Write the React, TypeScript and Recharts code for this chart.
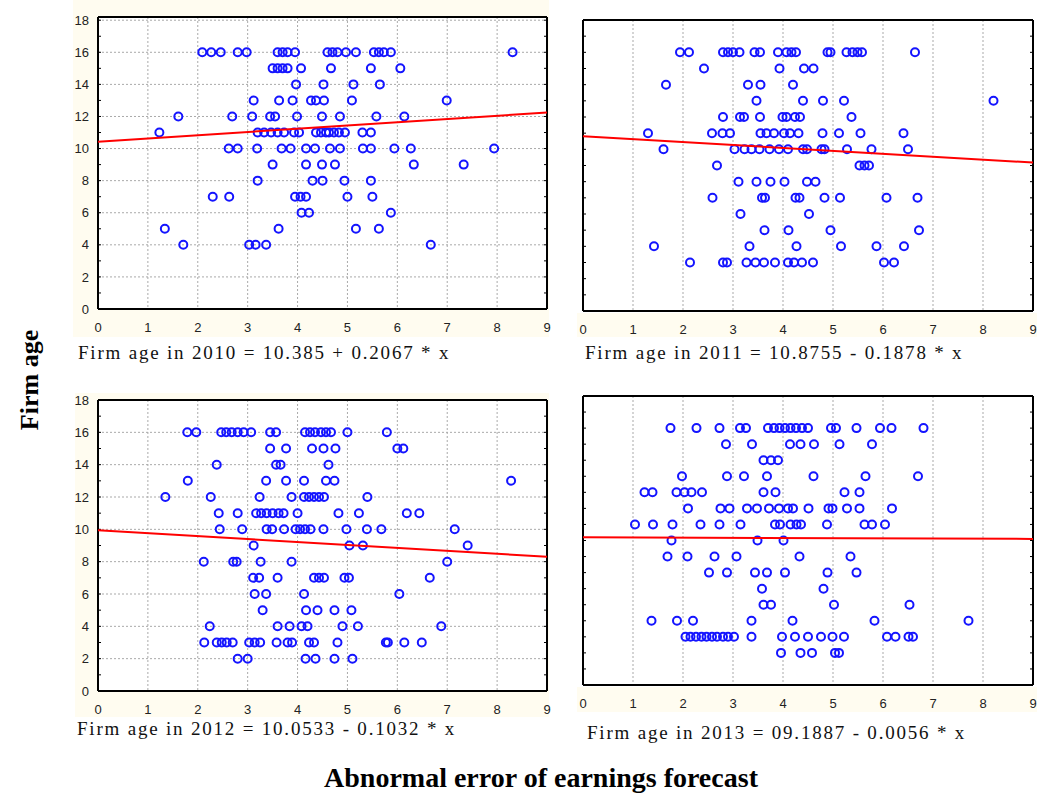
import { ScatterChart, Scatter, XAxis, YAxis, CartesianGrid } from 'recharts';

type Row = [number, number[]];

// firm age -> abnormal forecast errors (one row per age)
const rows2010: Row[] = [
  [16, [2.09, 2.27, 2.46, 2.8, 2.98, 3.6, 3.7, 3.8, 3.95, 4.6, 4.7, 4.8, 4.97, 5.17, 5.53, 5.63, 5.73, 5.87, 8.31]],
  [15, [3.5, 3.6, 3.7, 3.8, 4.07, 4.67, 5.47, 6.06]],
  [14, [3.97, 4.52, 5.12, 5.65]],
  [13, [3.12, 3.63, 3.9, 4.27, 4.37, 4.53, 5.09, 6.99]],
  [12, [1.61, 2.69, 3.09, 3.45, 3.55, 3.99, 4.49, 4.85, 5.58, 6.14]],
  [11, [1.23, 3.2, 3.33, 3.47, 3.6, 3.73, 3.93, 4.03, 4.37, 4.47, 4.57, 4.63, 4.73, 4.83, 4.95, 5.3, 5.47]],
  [10, [2.62, 2.8, 3.19, 3.68, 3.86, 4.17, 4.35, 4.65, 4.85, 5.31, 5.47, 5.94, 6.27, 7.94]],
  [9, [3.5, 4.17, 4.49, 4.75, 6.33, 7.33]],
  [8, [3.2, 4.3, 4.5, 4.94, 5.47]],
  [7, [2.3, 2.63, 3.95, 4.06, 4.17, 5.0, 5.5]],
  [6, [4.08, 4.23, 5.87]],
  [5, [1.34, 3.62, 5.17, 5.63]],
  [4, [1.71, 3.03, 3.16, 3.37, 6.67]],
];

const rows2011: Row[] = [
  [16, [1.94, 2.12, 2.8, 2.9, 3.0, 3.13, 3.43, 3.54, 3.9, 4.07, 4.17, 4.26, 4.89, 4.95, 5.27, 5.39, 5.49, 5.58, 6.64]],
  [15, [2.42, 3.93, 4.42, 4.61]],
  [14, [1.66, 3.3, 3.55, 4.2]],
  [13, [3.47, 4.4, 4.8, 5.22, 8.21]],
  [12, [2.8, 3.14, 3.22, 3.54, 3.99, 4.07, 4.24, 4.34, 5.37]],
  [11, [1.3, 2.58, 2.79, 2.94, 3.55, 3.67, 3.82, 4.02, 4.14, 4.31, 4.79, 5.12, 5.55, 6.41]],
  [10, [1.61, 3.03, 3.23, 3.37, 3.53, 3.73, 3.92, 4.1, 4.4, 4.48, 4.77, 4.83, 5.28, 5.77, 6.5]],
  [9, [2.68, 5.53, 5.63, 5.72]],
  [8, [3.11, 3.47, 3.75, 4.03, 4.48, 4.65]],
  [7, [2.59, 3.58, 3.64, 4.25, 4.33, 4.83, 5.14, 6.07, 6.69]],
  [6, [3.15, 4.52]],
  [5, [3.63, 4.11, 4.95, 6.72]],
  [4, [1.42, 3.33, 4.27, 5.16, 5.87, 6.42]],
  [3, [2.14, 2.8, 2.88, 3.27, 3.45, 3.62, 3.84, 4.1, 4.22, 4.38, 4.6, 6.02, 6.22]],
];

const rows2012: Row[] = [
  [16, [1.79, 1.97, 2.47, 2.57, 2.68, 2.8, 2.92, 3.07, 3.45, 3.57, 4.15, 4.25, 4.35, 4.47, 4.57, 4.67, 5.0, 5.79]],
  [15, [3.45, 3.77, 4.29, 4.52, 4.76, 6.0, 6.12]],
  [14, [2.38, 3.57, 3.66, 4.62]],
  [13, [1.8, 3.37, 3.77, 4.13, 4.57, 4.74, 8.28]],
  [12, [1.35, 2.26, 3.24, 3.88, 4.13, 4.23, 4.33, 4.43, 4.53, 5.4]],
  [11, [2.42, 2.8, 3.17, 3.27, 3.38, 3.5, 3.62, 3.72, 4.0, 4.82, 5.23, 6.19, 6.44]],
  [10, [2.44, 2.89, 3.38, 3.49, 3.73, 3.96, 4.05, 4.15, 4.26, 4.52, 4.98, 5.39, 5.68, 7.15]],
  [9, [3.12, 5.04, 5.31, 7.41]],
  [8, [2.12, 2.71, 2.78, 3.26, 3.88, 7.0]],
  [7, [3.11, 3.23, 3.6, 4.33, 4.43, 4.53, 4.94, 5.03, 6.65]],
  [6, [3.14, 3.37, 4.13, 6.04]],
  [5, [3.3, 4.17, 4.4, 4.74, 5.08]],
  [4, [2.24, 3.6, 3.84, 4.08, 4.2, 4.9, 5.21, 6.88]],
  [3, [2.13, 2.38, 2.48, 2.58, 2.7, 3.03, 3.14, 3.25, 3.58, 3.8, 3.89, 4.23, 4.33, 4.8, 5.77, 5.81, 6.14, 6.49]],
  [2, [2.8, 3.0, 4.16, 4.36, 4.74, 5.1]],
];

const rows2013: Row[] = [
  [16, [1.75, 2.27, 2.73, 3.14, 3.26, 3.7, 3.82, 3.93, 4.04, 4.15, 4.26, 4.38, 4.5, 4.96, 5.06, 5.47, 5.94, 6.17, 6.81]],
  [15, [2.86, 3.38, 4.14, 4.35, 4.62, 5.13, 5.78]],
  [14, [3.61, 3.76, 3.9]],
  [13, [1.98, 2.88, 3.22, 3.68, 4.61, 5.65, 6.7]],
  [12, [1.23, 1.39, 1.87, 2.03, 2.17, 2.38, 3.61, 3.85, 5.23, 5.53]],
  [11, [2.1, 2.75, 2.93, 3.28, 3.48, 3.72, 3.92, 4.1, 4.2, 4.51, 4.91, 4.99, 5.28, 5.53, 6.18]],
  [10, [1.04, 1.4, 1.79, 2.35, 2.73, 3.15, 3.84, 3.94, 4.15, 4.27, 4.36, 4.88, 5.63, 5.78, 6.04]],
  [9, [1.77, 3.49, 4.01]],
  [8, [1.69, 2.09, 2.63, 3.07, 4.33, 5.35]],
  [7, [2.52, 2.88, 3.44, 3.68, 4.04, 4.89, 5.47]],
  [6, [3.58, 4.81]],
  [5, [3.61, 3.76, 5.02, 6.53]],
  [4, [1.37, 1.88, 2.2, 3.37, 4.19, 5.83, 7.71]],
  [3, [2.05, 2.15, 2.26, 2.37, 2.47, 2.58, 2.68, 2.8, 2.9, 3.02, 3.37, 3.98, 4.24, 4.5, 4.76, 4.99, 5.22, 6.08, 6.25, 6.51, 6.6]],
  [2, [3.96, 4.35, 4.58, 5.04, 5.12]],
];

// red fitted line, value at x = 0 and x = 9 as drawn
const fitX = [0, 9];
const fit2010 = [10.42, 12.25];
const fit2011 = [10.81, 9.18];
const fit2012 = [9.95, 8.3];
const fit2013 = [9.2, 9.1];

const xTicks = [0, 1, 2, 3, 4, 5, 6, 7, 8, 9];
const yTicks = [0, 2, 4, 6, 8, 10, 12, 14, 16, 18];
const xMinor = Array.from({ length: 37 }, (_, i) => i * 0.25);
const yMinor = Array.from({ length: 19 }, (_, i) => i);

const CREAM = '#fffcf0';
const tickFont = { fontSize: 13, fill: '#222', fontFamily: 'Liberation Sans, Arial, sans-serif' };
const PAD = 8;

interface PanelProps {
  rows: Row[];
  fit: number[];
  yMax: number;
  left: number;
  top: number;
  plotW: number;
  plotH: number;
  yLabels: boolean;
}

const Dot = (p: any) => (
  <circle cx={p.cx} cy={p.cy} r={4} fill="none" stroke="#1414ff" strokeWidth={2} />
);

const blank = () => '';

function Panel({ rows, fit, yMax, left, top, plotW, plotH, yLabels }: PanelProps) {
  const points = rows.flatMap(([age, xs]) => xs.map((x) => ({ x, y: age })));
  const line = fitX.map((x, i) => ({ x, y: fit[i] }));
  const yw = yLabels ? 30 : PAD;
  const frame = { stroke: '#000', strokeWidth: 2 };
  const minorLine = { stroke: '#000', strokeWidth: 1 };

  return (
    <div style={{ position: 'absolute', left: left - yw, top: top - PAD }}>
      <ScatterChart
        width={yw + plotW + PAD}
        height={plotH + PAD + 30}
        margin={{ top: PAD, right: PAD, bottom: 0, left: 0 }}
      >
        <CartesianGrid fill="#fff" stroke="#a9a9a9" strokeDasharray="2 2" />
        <XAxis
          type="number"
          dataKey="x"
          domain={[0, 9]}
          ticks={xTicks}
          interval={0}
          height={30}
          axisLine={frame}
          tickLine={false}
          tickSize={0}
          tickMargin={14}
          tick={tickFont}
        />
        <XAxis
          xAxisId="bm"
          type="number"
          domain={[0, 9]}
          ticks={xMinor}
          interval={0}
          mirror
          allowDataOverflow
          axisLine={false}
          tickLine={minorLine}
          tickSize={3}
          tickFormatter={blank}
        />
        <XAxis
          xAxisId="top"
          orientation="top"
          type="number"
          domain={[0, 9]}
          ticks={xMinor}
          interval={0}
          mirror
          allowDataOverflow
          axisLine={frame}
          tickLine={minorLine}
          tickSize={3}
          tickFormatter={blank}
        />
        <YAxis
          type="number"
          dataKey="y"
          domain={[0, yMax]}
          ticks={yTicks}
          interval={0}
          width={yw}
          axisLine={frame}
          tickLine={false}
          tickSize={0}
          tickMargin={9}
          tick={yLabels ? tickFont : false}
        />
        <YAxis
          yAxisId="lm"
          type="number"
          domain={[0, yMax]}
          ticks={yMinor}
          interval={0}
          mirror
          allowDataOverflow
          axisLine={false}
          tickLine={minorLine}
          tickSize={3}
          tickFormatter={blank}
        />
        <YAxis
          yAxisId="right"
          orientation="right"
          type="number"
          domain={[0, yMax]}
          ticks={yMinor}
          interval={0}
          mirror
          allowDataOverflow
          axisLine={frame}
          tickLine={minorLine}
          tickSize={3}
          tickFormatter={blank}
        />
        <Scatter data={points} shape={Dot} isAnimationActive={false} />
        <Scatter
          data={line}
          line={{ stroke: '#ff0000', strokeWidth: 2 }}
          shape={() => <g />}
          isAnimationActive={false}
        />
      </ScatterChart>
    </div>
  );
}

const captionStyle = {
  position: 'absolute' as const,
  fontFamily: 'Liberation Serif, Times New Roman, serif',
  fontSize: 19,
  lineHeight: '20px',
  letterSpacing: 1.8,
  color: '#111',
  whiteSpace: 'nowrap' as const,
};

export default function App() {
  return (
    <div style={{ position: 'absolute', left: 0, top: 0, width: 1037, height: 793, background: '#fff', overflow: 'hidden' }}>
      {/* cream label strips */}
      <div style={{ position: 'absolute', left: 73, top: 0, width: 476, height: 337, background: CREAM }} />
      <div style={{ position: 'absolute', left: 577, top: 313, width: 460, height: 24, background: CREAM }} />
      <div style={{ position: 'absolute', left: 75, top: 393, width: 474, height: 324, background: CREAM }} />
      <div style={{ position: 'absolute', left: 577, top: 687, width: 460, height: 25, background: CREAM }} />

      <Panel rows={rows2010} fit={fit2010} yMax={18.2} left={98} top={17} plotW={449} plotH={292} yLabels />
      <Panel rows={rows2011} fit={fit2011} yMax={18} left={583} top={20} plotW={450} plotH={291} yLabels={false} />
      <Panel rows={rows2012} fit={fit2012} yMax={18} left={98} top={400} plotW={449} plotH={291} yLabels />
      <Panel rows={rows2013} fit={fit2013} yMax={18} left={583} top={396} plotW={450} plotH={289} yLabels={false} />

      <div style={{ ...captionStyle, left: 78, top: 343 }}>Firm age in 2010 = 10.385 + 0.2067 * x</div>
      <div style={{ ...captionStyle, left: 585, top: 343 }}>Firm age in 2011 = 10.8755 - 0.1878 * x</div>
      <div style={{ ...captionStyle, left: 77, top: 719 }}>Firm age in 2012 = 10.0533 - 0.1032 * x</div>
      <div style={{ ...captionStyle, left: 587, top: 723 }}>Firm age in 2013 = 09.1887 - 0.0056 * x</div>

      <div
        style={{
          position: 'absolute',
          left: 30,
          top: 380,
          transform: 'translate(-50%, -50%) rotate(-90deg)',
          fontFamily: 'Liberation Serif, Times New Roman, serif',
          fontWeight: 'bold',
          fontSize: 26,
          whiteSpace: 'nowrap',
          color: '#000',
        }}
      >
        Firm age
      </div>
      <div
        style={{
          position: 'absolute',
          left: 0,
          width: 1082,
          top: 762,
          textAlign: 'center',
          fontFamily: 'Liberation Serif, Times New Roman, serif',
          fontWeight: 'bold',
          fontSize: 28,
          lineHeight: '32px',
          color: '#000',
        }}
      >
        Abnormal error of earnings forecast
      </div>
    </div>
  );
}
